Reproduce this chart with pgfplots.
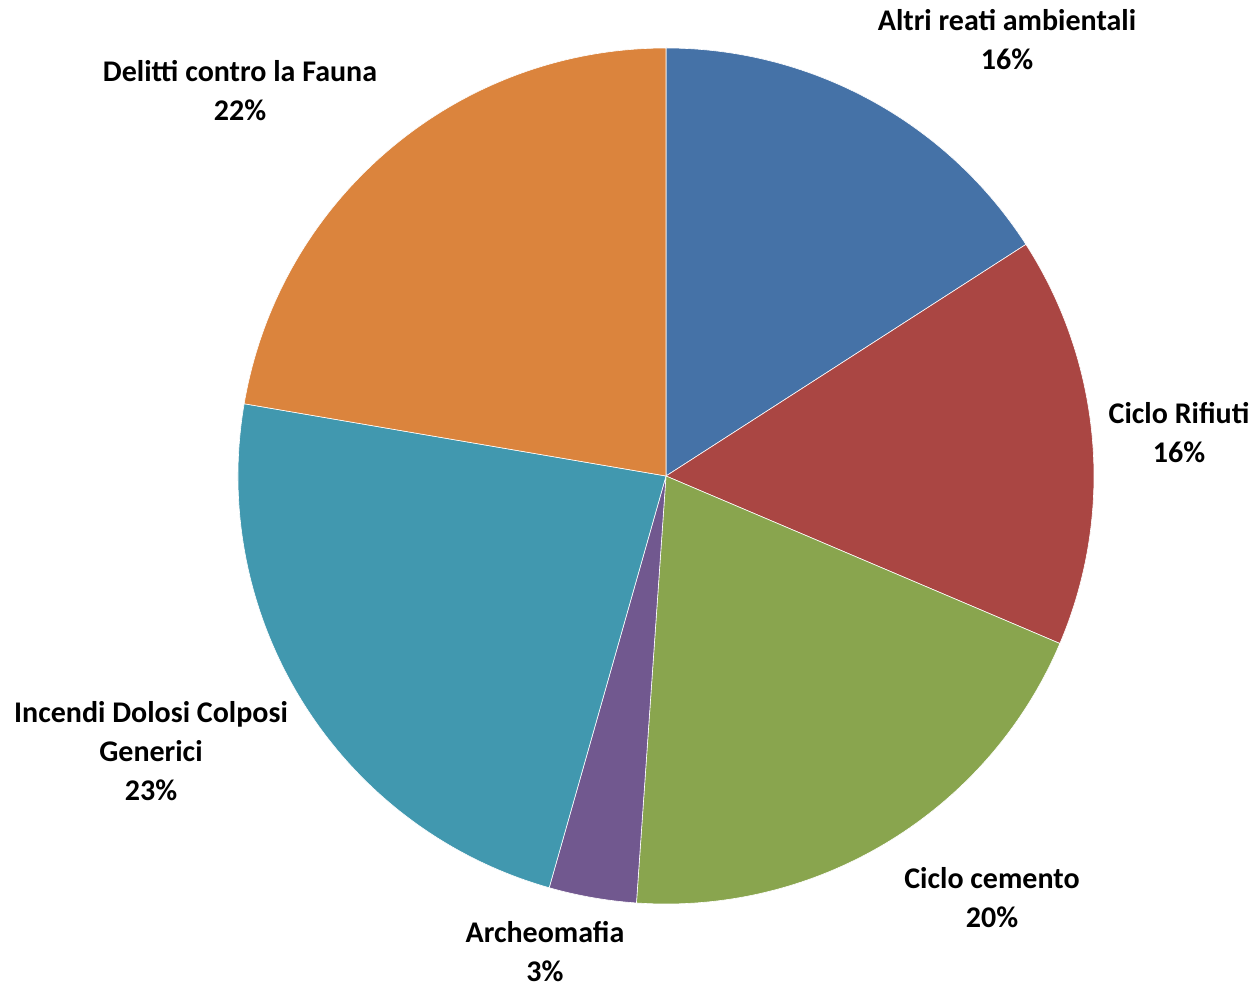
\documentclass[border=0pt]{standalone}
\usepackage{pgfplots}
\pgfplotsset{compat=1.18}
\usepackage{fontspec}
\setmainfont{Carlito}

% Excel 2010 palette
\definecolor{cAltri}{HTML}{4572A7}
\definecolor{cRifiuti}{HTML}{AA4643}
\definecolor{cCemento}{HTML}{89A54E}
\definecolor{cArcheo}{HTML}{71588F}
\definecolor{cIncendi}{HTML}{4198AF}
\definecolor{cFauna}{HTML}{DB843D}

% shares in percent, clockwise from 12 o'clock
\def\vAltri{15.9}
\def\vRifiuti{15.5}
\def\vCemento{19.7}
\def\vArcheo{3.3}
\def\vIncendi{23.3}
\def\vFauna{22.3}

\pgfmathsetmacro{\aA}{90}
\pgfmathsetmacro{\aB}{\aA-3.6*\vAltri}
\pgfmathsetmacro{\aC}{\aB-3.6*\vRifiuti}
\pgfmathsetmacro{\aD}{\aC-3.6*\vCemento}
\pgfmathsetmacro{\aE}{\aD-3.6*\vArcheo}
\pgfmathsetmacro{\aF}{\aE-3.6*\vIncendi}
\pgfmathsetmacro{\aG}{\aF-3.6*\vFauna}

\begin{document}
\begin{tikzpicture}
\begin{axis}[
    width=627.5pt, height=493.5pt,
    scale only axis,
    hide axis,
    xmin=0, xmax=1255,
    ymin=0, ymax=987,
    clip=false,
]
\path (axis cs:0,0) rectangle (axis cs:1255,987);

\newcommand{\slice}[3]{%
  \fill[#3, draw=white, line width=0.3pt] (axis cs:666,511) -- ++(#1:214pt)
     arc[start angle=#1, end angle=#2, radius=214pt] -- cycle;}

\slice{\aA}{\aB}{cAltri}
\slice{\aB}{\aC}{cRifiuti}
\slice{\aC}{\aD}{cCemento}
\slice{\aD}{\aE}{cArcheo}
\slice{\aE}{\aF}{cIncendi}
\slice{\aF}{\aG}{cFauna}

\tikzset{lab/.style={font=\fontsize{15}{19.5}\selectfont\bfseries, align=center, inner sep=0pt}}
\node[lab] at (axis cs:1007,947) {Altri reati ambientali\\16\%};
\node[lab] at (axis cs:1179,554) {Ciclo Rifiuti\\16\%};
\node[lab] at (axis cs:992,89) {Ciclo cemento\\20\%};
\node[lab] at (axis cs:545,35) {Archeomafia\\3\%};
\node[lab] at (axis cs:151,236) {Incendi Dolosi Colposi\\Generici\\23\%};
\node[lab] at (axis cs:240,896) {Delitti contro la Fauna\\22\%};
\end{axis}
\end{tikzpicture}
\end{document}
